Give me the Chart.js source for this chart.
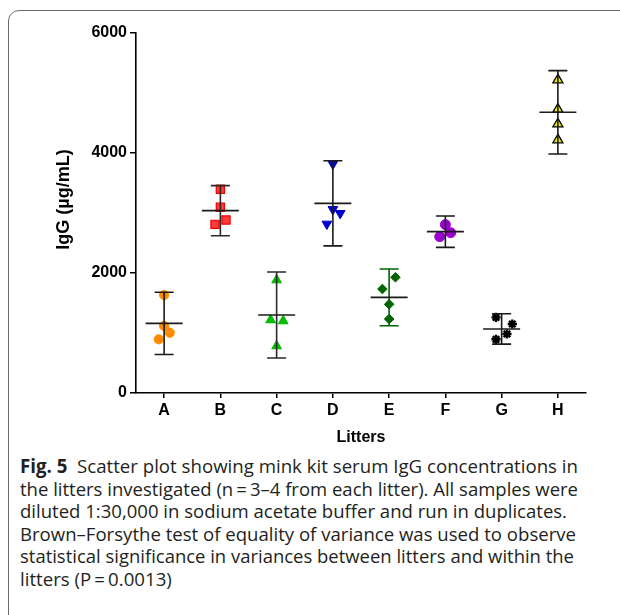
<!DOCTYPE html>
<html><head><meta charset="utf-8">
<script src="https://cdn.jsdelivr.net/npm/chart.js@4.4.1/dist/chart.umd.min.js"></script>
<style>
html,body{margin:0;padding:0;background:#fff;width:620px;height:615px;overflow:hidden;position:relative;}
#frame{position:absolute;left:8px;top:10px;width:720px;height:720px;border:1.4px solid #6b6b6b;border-radius:11px;box-sizing:border-box;}
#chartBox{position:absolute;left:0;top:0;width:620px;height:453px;}
#caption{position:absolute;left:20px;top:455px;font-family:'Open Sans',Lato,sans-serif;font-size:19px;line-height:22.6px;color:#231f20;white-space:nowrap;}
#caption span{display:inline-block;transform-origin:0 0;}
</style></head><body>
<div id="frame"></div>
<div id="chartBox"><canvas id="c" width="620" height="453"></canvas></div>
<div id="caption"><span><b>Fig. 5</b>&nbsp; Scatter plot showing mink kit serum IgG concentrations in</span><br><span>the litters investigated (n&#8201;=&#8201;3–4 from each litter). All samples were</span><br><span>diluted 1:30,000 in sodium acetate buffer and run in duplicates.</span><br><span>Brown–Forsythe test of equality of variance was used to observe</span><br><span>statistical significance in variances between litters and within the</span><br><span>litters (P&#8201;=&#8201;0.0013)</span></div>
<script>
// ---- data ----
const categories = ['A', 'B', 'C', 'D', 'E', 'F', 'G', 'H'];
const litterA = [1633, 1117, 1005, 895];
const litterB = [3395, 3095, 2883, 2811];
const litterC = [1883, 1217, 1200, 783];
const litterD = [3817, 3061, 2995, 2817];
const litterE = [1928, 1733, 1478, 1233];
const litterF = [2806, 2672, 2606];
const litterG = [1261, 1150, 983, 895];
const litterH = [5217, 4728, 4483, 4217];
const means = [1161, 3039, 1300, 3161, 1594, 2689, 1067, 4678];
const sds = [519, 417, 717, 709, 473, 262, 253, 695];
const yTicks = [0, 2000, 4000, 6000];

// horizontal scatter (jitter) of each point within its litter, in category units
const jitter = [
  [0, 0, 0.1, -0.095],
  [0, 0, 0.1, -0.095],
  [0, -0.107, 0.117, 0],
  [0, 0, 0.13, -0.107],
  [0.112, -0.12, 0, 0],
  [0, 0.095, -0.1],
  [-0.1, 0.19, 0.095, -0.1],
  [0, 0, 0, 0]
];
const litters = [litterA, litterB, litterC, litterD, litterE, litterF, litterG, litterH];

const styles = [
  {pointStyle: 'circle', radius: 4.6, bg: '#FF8C00', border: '#FF8C00', bw: 1, rot: 0},
  {pointStyle: 'rect', radius: 5.8, bg: '#FF3B3B', border: '#F20000', bw: 1.2, rot: 0},
  {pointStyle: 'triangle', radius: 5.6, bg: '#00C000', border: '#00B000', bw: 1, rot: 0},
  {pointStyle: 'triangle', radius: 5.6, bg: '#0000CC', border: '#0000CC', bw: 1, rot: 180},
  {pointStyle: 'rectRot', radius: 4.8, bg: '#006400', border: '#006400', bw: 1, rot: 0},
  {pointStyle: 'circle', radius: 5, bg: '#9A00D0', border: '#9A00D0', bw: 1, rot: 0},
  {pointStyle: 'star', radius: 4.6, bg: '#000', border: '#000', bw: 2.4, rot: 0},
  {pointStyle: 'triangle', radius: 5.8, bg: '#F2F200', border: '#000', bw: 1.3, rot: 0}
];
const barColors = ['#1a1a1a', '#2a2a2a', '#2a2a2a', '#1a1a1a', '#006400', '#1a1a1a', '#1a1a1a', '#1a1a1a'];

const datasets = litters.map((vals, i) => ({
  label: categories[i],
  data: vals.map((v, k) => ({x: i + jitter[i][k], y: v})),
  pointStyle: styles[i].pointStyle,
  pointRadius: styles[i].radius,
  pointBackgroundColor: styles[i].bg,
  pointBorderColor: styles[i].border,
  pointBorderWidth: styles[i].bw,
  pointRotation: styles[i].rot,
  showLine: false
}));

const meanSdPlugin = {
  id: 'meanSd',
  afterDatasetsDraw(chart) {
    const {ctx, scales: {x, y}} = chart;
    ctx.save();
    means.forEach((m, i) => {
      const cx = x.getPixelForValue(i);
      const yTop = y.getPixelForValue(m + sds[i]);
      const yBot = y.getPixelForValue(m - sds[i]);
      const yM = y.getPixelForValue(m);
      ctx.strokeStyle = barColors[i];
      ctx.lineWidth = 1.6;
      ctx.beginPath();
      ctx.moveTo(cx, yTop); ctx.lineTo(cx, yBot);
      ctx.moveTo(cx - 9.5, yTop); ctx.lineTo(cx + 9.5, yTop);
      ctx.moveTo(cx - 9.5, yBot); ctx.lineTo(cx + 9.5, yBot);
      ctx.stroke();
      ctx.strokeStyle = '#1a1a1a';
      ctx.beginPath();
      ctx.moveTo(cx - 18.5, yM); ctx.lineTo(cx + 18.5, yM);
      ctx.stroke();
    });
    ctx.restore();
  }
};

const fam = "'Liberation Sans', Arial, sans-serif";
new Chart(document.getElementById('c'), {
  type: 'scatter',
  data: {datasets},
  plugins: [meanSdPlugin],
  options: {
    responsive: false,
    animation: false,
    layout: {padding: {left: 50, right: 34, top: 33, bottom: 0}},
    plugins: {legend: {display: false}, tooltip: {enabled: false}},
    scales: {
      x: {
        type: 'linear', min: -0.5, max: 7.5,
        afterBuildTicks: s => { s.ticks = categories.map((c, i) => ({value: i})); },
        afterFit: s => { s.height = 60; },
        ticks: {callback: v => categories[v], color: '#000', padding: 3, font: {family: fam, size: 16, weight: 'bold'}, maxRotation: 0, autoSkip: false},
        grid: {drawOnChartArea: false, drawTicks: true, tickLength: 5, color: '#000', lineWidth: 1.5},
        border: {color: '#000', width: 1.6},
        title: {display: true, text: 'Litters', color: '#000', padding: {top: 0, bottom: 6}, font: {family: fam, size: 16, weight: 'bold'}}
      },
      y: {
        min: 0, max: 6000,
        afterBuildTicks: s => { s.ticks = yTicks.map(v => ({value: v})); },
        afterFit: s => { s.width = 86; },
        ticks: {callback: v => String(v), color: '#000', padding: 3, font: {family: fam, size: 16, weight: 'bold'}},
        grid: {drawOnChartArea: false, drawTicks: true, tickLength: 6, color: '#000', lineWidth: 1.5},
        border: {color: '#000', width: 1.6},
        title: {display: true, text: '\u2002\u2002\u2002IgG (µg/mL)', color: '#000', padding: {top: 3, bottom: 0}, font: {family: fam, size: 18, weight: 'bold'}}
      }
    }
  }
});

// fit each caption line to the reference line widths (short last line keeps line 1's scale)
const targets = [558, 558, 547, 556, 554, null];
let baseScale = 1;
document.querySelectorAll('#caption span').forEach((s, i) => {
  const w = s.getBoundingClientRect().width;
  const k = targets[i] ? targets[i] / w : baseScale;
  if (i === 0) baseScale = k;
  s.style.transform = 'scaleX(' + k + ')';
});
</script>
</body></html>
